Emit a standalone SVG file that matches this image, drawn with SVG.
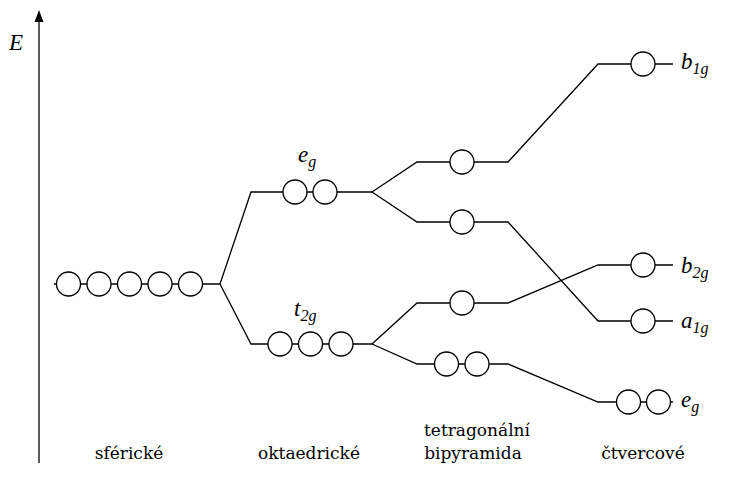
<svg xmlns="http://www.w3.org/2000/svg" width="729" height="491" viewBox="0 0 729 491">
<style>
.ln{fill:none;stroke:#000;stroke-width:1.3;stroke-linejoin:miter}
.orb{fill:#fff;stroke:#000;stroke-width:1.3}
.lbl{font-size:17px;fill:#000}
.mth{font-style:italic;font-size:23px;fill:#000}
.sub{font-size:16px}
</style>
<g id="axis">
<line x1="39" y1="463" x2="39" y2="22" class="ln"/>
<path d="M34.5,22 L39,10 L43.5,22 Z" fill="#000"/>
<text x="9" y="50" class="mth" font-family="Liberation Serif, Times New Roman, DejaVu Serif, serif">E</text>
</g>
<g id="connectors">
<path class="ln" d="M54 284 H220"/>
<path class="ln" d="M220 284 L251 192 H372"/>
<path class="ln" d="M220 284 L251 344 H372"/>
<path class="ln" d="M372 192 L417 162 H508 L598 64 H673"/>
<path class="ln" d="M372 192 L417 222 H508 L598 321 H673"/>
<path class="ln" d="M372 344 L417 303 H508 L598 265 H673"/>
<path class="ln" d="M372 344 L417 364 H508 L598 402 H673"/>
</g>
<g id="spherical">
<circle class="orb" cx="68.5" cy="284" r="12"/>
<circle class="orb" cx="99" cy="284" r="12"/>
<circle class="orb" cx="129.5" cy="284" r="12"/>
<circle class="orb" cx="160" cy="284" r="12"/>
<circle class="orb" cx="190.5" cy="284" r="12"/>
<text x="129" y="459" text-anchor="middle" class="lbl" font-family="DejaVu Serif, Liberation Serif, serif">sférické</text>
</g>
<g id="oct-eg">
<circle class="orb" cx="295" cy="192" r="12"/>
<circle class="orb" cx="325" cy="192" r="12"/>
<text x="298" y="162" class="mth" font-family="Liberation Serif, Times New Roman, DejaVu Serif, serif">e<tspan class="sub" dy="5">g</tspan></text>
</g>
<g id="oct-t2g">
<circle class="orb" cx="280" cy="344" r="12"/>
<circle class="orb" cx="310.5" cy="344" r="12"/>
<circle class="orb" cx="341" cy="344" r="12"/>
<text x="294" y="316" class="mth" font-family="Liberation Serif, Times New Roman, DejaVu Serif, serif">t<tspan class="sub" dy="5">2g</tspan></text>
<text x="309" y="459" text-anchor="middle" class="lbl" font-family="DejaVu Serif, Liberation Serif, serif">oktaedrické</text>
</g>
<g id="tet-1">
<circle class="orb" cx="462" cy="162" r="12"/>
</g>
<g id="tet-2">
<circle class="orb" cx="462" cy="222" r="12"/>
</g>
<g id="tet-3">
<circle class="orb" cx="462" cy="303" r="12"/>
</g>
<g id="tet-4">
<circle class="orb" cx="446.5" cy="364" r="12"/>
<circle class="orb" cx="477" cy="364" r="12"/>
<text x="477" y="436" text-anchor="middle" class="lbl" font-family="DejaVu Serif, Liberation Serif, serif">tetragonální</text>
<text x="473" y="459" text-anchor="middle" class="lbl" font-family="DejaVu Serif, Liberation Serif, serif">bipyramida</text>
</g>
<g id="sq-b1g">
<circle class="orb" cx="643" cy="64" r="12"/>
<text x="681" y="69" class="mth" font-family="Liberation Serif, Times New Roman, DejaVu Serif, serif">b<tspan class="sub" dy="5">1g</tspan></text>
</g>
<g id="sq-b2g">
<circle class="orb" cx="643" cy="265" r="12"/>
<text x="681" y="273" class="mth" font-family="Liberation Serif, Times New Roman, DejaVu Serif, serif">b<tspan class="sub" dy="5">2g</tspan></text>
</g>
<g id="sq-a1g">
<circle class="orb" cx="643" cy="321" r="12"/>
<text x="681" y="328" class="mth" font-family="Liberation Serif, Times New Roman, DejaVu Serif, serif">a<tspan class="sub" dy="5">1g</tspan></text>
</g>
<g id="sq-eg">
<circle class="orb" cx="628.5" cy="402" r="12"/>
<circle class="orb" cx="658.5" cy="402" r="12"/>
<text x="681" y="407" class="mth" font-family="Liberation Serif, Times New Roman, DejaVu Serif, serif">e<tspan class="sub" dy="5">g</tspan></text>
<text x="643" y="459" text-anchor="middle" class="lbl" font-family="DejaVu Serif, Liberation Serif, serif">čtvercové</text>
</g>
</svg>
